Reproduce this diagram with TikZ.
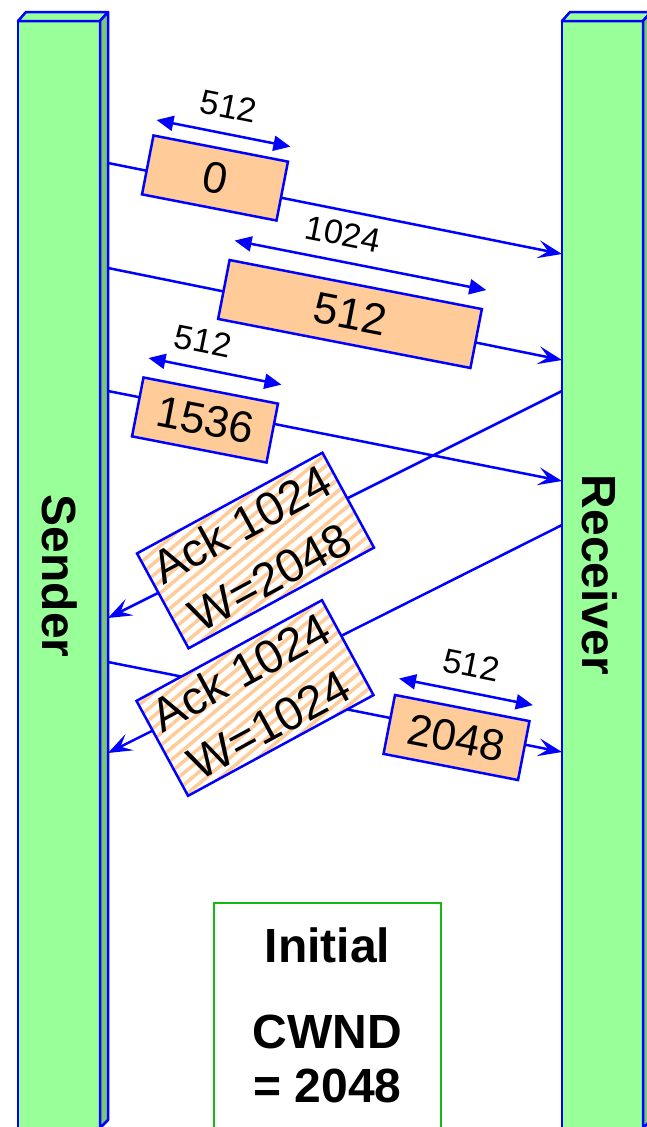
\documentclass[tikz,border=0pt]{standalone}
\usepackage{fontspec}
\setmainfont{Liberation Sans}
\usetikzlibrary{arrows.meta,patterns.meta}
\definecolor{barGreen}{HTML}{99FF99}
\definecolor{barShade}{HTML}{77C777}
\definecolor{lineBlue}{HTML}{0000FF}
\definecolor{pktOrange}{HTML}{FFCC99}
\definecolor{noteGreen}{HTML}{11BB11}

\begin{document}
\begin{tikzpicture}[x=1pt, y=-1pt,
    msg/.style={draw=lineBlue, line width=2.5pt, -{Stealth[length=24pt, width=18pt, inset=10pt]}},
    dim/.style={draw=lineBlue, line width=2.5pt, {Triangle[length=17pt, width=15pt]}-{Triangle[length=17pt, width=15pt]}},
    pkt/.style={draw=lineBlue, line width=2.5pt, fill=pktOrange, rotate=-11, minimum width=137pt, minimum height=60pt, inner sep=0pt, font=\fontsize{44}{48}\selectfont},
    ack/.style={draw=lineBlue, line width=2.5pt, preaction={fill=white}, pattern={Lines[angle=40, distance=9pt, line width=3.5pt]}, pattern color=pktOrange, rotate=28.5, minimum width=211pt, minimum height=108pt, inner sep=0pt, align=center, font=\fontsize{47}{60}\selectfont},
    sizelbl/.style={font=\fontsize{34}{38}\selectfont, sloped, inner sep=2pt, above=12pt},
    bar/.style={draw=lineBlue, line width=2.5pt, line join=round},
    barlabel/.style={font=\fontsize{48}{52}\selectfont\bfseries}]
  \useasboundingbox (0,0) rectangle (646,1127);

  % sender bar
  \draw[bar, fill=barGreen] (18,21) rectangle (100,1128);
  \draw[bar, fill=barGreen] (18,21) -- (26,12) -- (108,12) -- (100,21) -- cycle;
  \draw[bar, fill=barShade] (100,21) -- (108,12) -- (108,1120) -- (100,1128) -- cycle;
  % receiver bar
  \draw[bar, fill=barGreen] (562,21) rectangle (643,1128);
  \draw[bar, fill=barGreen] (562,21) -- (570,12) -- (651,12) -- (643,21) -- cycle;
  \draw[bar, fill=barShade] (643,21) -- (651,12) -- (651,1120) -- (643,1128) -- cycle;

  \node[barlabel, rotate=-90] (sender) at (60,576) {Sender};
  \node[barlabel, rotate=-90] (receiver) at (600,575) {Receiver};

  % message end points
  \coordinate (s0) at (108,163);     \coordinate (r0) at (562,254);
  \coordinate (s512) at (108,268);   \coordinate (r512) at (562,360);
  \coordinate (s1536) at (108,391);  \coordinate (r1536) at (562,481);
  \coordinate (ra1) at (562,391);    \coordinate (sa1) at (108,618);
  \coordinate (ra2) at (562,525);    \coordinate (sa2) at (108,753);
  \coordinate (s2048) at (108,662);  \coordinate (r2048) at (562,752);

  \foreach \a/\b in {s0/r0, s512/r512, s1536/r1536, ra1/sa1, ra2/sa2, s2048/r2048} {
    \draw[msg] (\a) -- (\b);
  }

  % segments and acks
  \node[pkt] (p0) at (215,178) {0};
  \node[pkt, minimum width=257pt] (p512) at (350,314) {512};
  \node[pkt] (p1536) at (205,420) {1536};
  \node[ack] (a1) at (255.5,550.5) {Ack 1024\\W=2048};
  \node[ack] (a2) at (255,698) {Ack 1024\\W=1024};
  \node[pkt] (p2048) at (456.5,737.5) {2048};

  % segment sizes
  \draw[dim] ([shift={(4,-14)}]p0.north west) -- ([shift={(1,-14)}]p0.north east)
    node[sizelbl, midway] {512};
  \draw[dim] ([shift={(6,-18)}]p512.north west) -- ([shift={(3,-18)}]p512.north east)
    node[sizelbl, pos=0.41] {1024};
  \draw[dim] ([shift={(6,-18)}]p1536.north west) -- ([shift={(2,-18)}]p1536.north east)
    node[sizelbl, pos=0.37] {512};
  \draw[dim] ([shift={(5,-15)}]p2048.north west) -- ([shift={(2,-15)}]p2048.north east)
    node[sizelbl, midway] {512};

  % initial window
  \draw[draw=noteGreen, line width=2.5pt] (214,903) rectangle (441,1135);
  \node[barlabel, anchor=base] (init) at (327.5,962) {Initial};
  \node[barlabel, anchor=base] (cwnd) at (327.5,1048) {CWND};
  \node[barlabel, anchor=base] (cval) at (327.5,1102) {= 2048};
\end{tikzpicture}
\end{document}
